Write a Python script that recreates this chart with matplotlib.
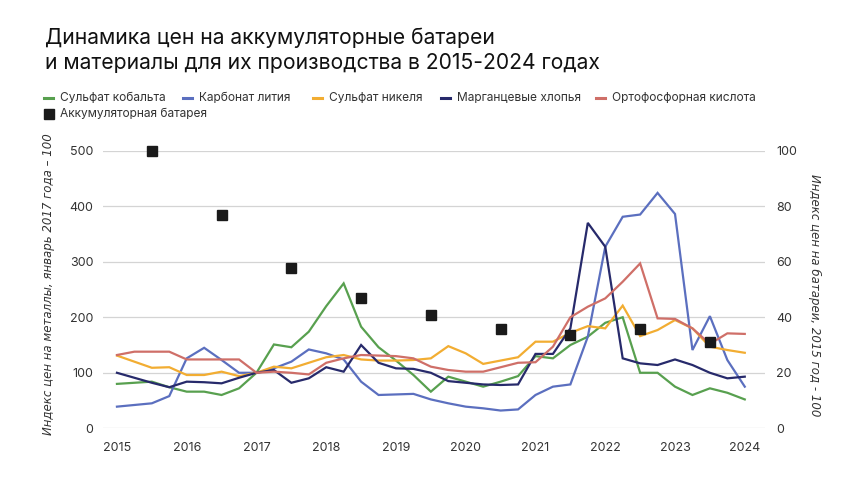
import numpy as np
import matplotlib
matplotlib.use('Agg')
import matplotlib.pyplot as plt
from matplotlib.lines import Line2D

plt.rcParams['font.family'] = ['Inter', 'DejaVu Sans']

# --- data: quarterly index, January 2017 = 100 ---
years = np.arange(2015, 2024.01, 0.25)

cobalt = [80, 82, 84, 74, 66, 66, 60, 72, 100, 151, 146, 174, 220, 261, 183, 146,
          122, 96, 66, 93, 84, 75, 84, 94, 130, 126, 150, 165, 190, 200, 100, 100,
          75, 60, 72, 64, 52]
lithium = [39, 42, 45, 58, 126, 145, 123, 100, 100, 108, 120, 142, 135, 124, 84, 60,
           61, 62, 52, 45, 39, 36, 32, 34, 60, 75, 79, 165, 327, 381, 385, 424,
           386, 141, 202, 123, 75]
nickel = [131, 120, 109, 110, 96, 96, 102, 94, 100, 111, 108, 118, 128, 132, 124, 122,
          122, 123, 126, 148, 135, 116, 122, 128, 156, 156, 172, 184, 180, 221, 166, 177,
          195, 180, 147, 141, 136]
manganese = [100, 91, 82, 74, 84, 83, 81, 91, 100, 105, 82, 90, 110, 102, 150, 118,
             108, 107, 100, 85, 82, 79, 78, 79, 134, 134, 180, 370, 327, 126, 117, 114,
             124, 114, 100, 90, 93]
phosphoric = [132, 138, 138, 138, 124, 124, 124, 124, 100, 102, 100, 97, 118, 126, 132, 131,
              130, 126, 111, 105, 102, 102, 110, 118, 119, 147, 200, 219, 234, 264, 297, 198,
              197, 180, 152, 171, 170]

# battery pack price index, 2015 = 100 (right axis)
battery_years = [2015.5, 2016.5, 2017.5, 2018.5, 2019.5, 2020.5, 2021.5, 2022.5, 2023.5]
battery = [100, 77, 57.6, 47.1, 40.8, 35.7, 33.5, 35.9, 31.0]

series = [
    ('Сульфат кобальта', cobalt, '#58a04f'),
    ('Карбонат лития', lithium, '#5b6fbf'),
    ('Сульфат никеля', nickel, '#f2ad32'),
    ('Марганцевые хлопья', manganese, '#272a6b'),
    ('Ортофосфорная кислота', phosphoric, '#cf6f68'),
]
battery_label = 'Аккумуляторная батарея'

fig = plt.figure(figsize=(8.6, 4.84), dpi=100)
ax = fig.add_axes([103 / 860, 1 - 428.3 / 484, 662 / 860, 277.6 / 484])

for name, vals, col in series:
    ax.plot(years, vals, color=col, lw=1.6, solid_joinstyle='miter', clip_on=False)

ax.set_xlim(2014.8, 2024.29)
ax.set_ylim(0, 500)
ax.set_xticks(range(2015, 2025))
ax.set_yticks(range(0, 501, 100))
ax.grid(axis='y', color='#d4d4d4', lw=0.9)
ax.set_axisbelow(True)
for s in ax.spines.values():
    s.set_visible(False)
ax.tick_params(length=0, labelsize=9, colors='#333333')
ax.tick_params(axis='x', pad=10)
ax.tick_params(axis='y', pad=7)

ax2 = ax.twinx()
ax2.plot(battery_years, battery, ls='none', marker='s', ms=7.5, color='#1a1a1a', clip_on=False)
ax2.set_ylim(0, 100)
ax2.set_yticks(range(0, 101, 20))
for s in ax2.spines.values():
    s.set_visible(False)
ax2.tick_params(length=0, labelsize=9, colors='#333333', pad=8)

fig.text(49 / 860, 1 - 284 / 484, 'Индекс цен на металлы, январь 2017 года – 100',
         rotation=90, ha='center', va='center', fontsize=8.5, style='italic',
         color='#333333', family='DejaVu Sans')
fig.text(815 / 860, 1 - 295 / 484, 'Индекс цен на батареи, 2015 год - 100',
         rotation=270, ha='center', va='center', fontsize=8.5, style='italic',
         color='#333333', family='DejaVu Sans')

# title
fig.text(45 / 860, 1 - 38 / 484, 'Динамика цен на аккумуляторные батареи',
         fontsize=15.2, va='center', ha='left', color='#111111')
fig.text(45 / 860, 1 - 63 / 484, 'и материалы для их производства в 2015-2024 годах',
         fontsize=15.2, va='center', ha='left', color='#111111')

# legend (flow layout)
leg_x = [44, 183, 313, 441, 596]
ly = 1 - 98 / 484
for (name, vals, col), x in zip(series, leg_x):
    fig.add_artist(Line2D([x / 860, (x + 9) / 860], [ly, ly], color=col, lw=2.2,
                          transform=fig.transFigure))
    fig.text((x + 16) / 860, ly, name, fontsize=8.6, va='center', ha='left', color='#333333')
ly2 = 1 - 114 / 484
fig.add_artist(Line2D([48.5 / 860], [ly2], marker='s', ms=6.5, color='#1a1a1a', ls='none',
                      transform=fig.transFigure))
fig.text(60 / 860, ly2, battery_label, fontsize=8.6, va='center', ha='left', color='#333333')

fig.savefig('out.png', dpi=100)
